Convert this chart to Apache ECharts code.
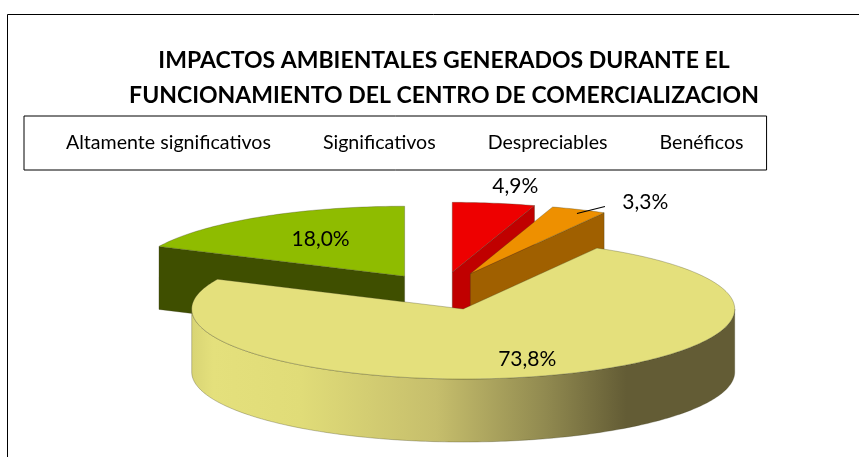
<!DOCTYPE html>
<html>
<head>
<meta charset="utf-8">
<style>html,body{margin:0;padding:0;background:#fff}#c{width:859px;height:457px}</style>
<script src="https://cdn.jsdelivr.net/npm/echarts@6/dist/echarts.min.js"></script>
</head>
<body>
<div id="c"></div>
<script>
var titleLines = ['IMPACTOS AMBIENTALES GENERADOS DURANTE EL', 'FUNCIONAMIENTO DEL CENTRO DE COMERCIALIZACION'];
var categories = ['Altamente significativos', 'Significativos', 'Despreciables', 'Benéficos'];
var values = [4.9, 3.3, 73.8, 18.0];
var valueLabels = ['4,9%', '3,3%', '73,8%', '18,0%'];
var topColors = ['#ee0000', '#ee9000', '#e4e07c', '#8fbc00'];
var sideColors = ['#c00000', '#a06000', null, '#3f4f00'];

var FONT = 'Lato, "Open Sans", sans-serif';
var pie = {cx: 441, cy: 291, rx: 271.5, ry: 70, depth: 63};
var explodes = [0.27, 0.27, 0.27, 0.25];
var total = values.reduce(function (a, b) { return a + b; }, 0);
var labelOffsets = [[63, -86], [175, -71], [64, 50], [-84, -37]];
var drawOrder = [3, 4, 5, 2];

function pt(o, a, dy) {
  return [o[0] + pie.rx * Math.sin(a), o[1] - pie.ry * Math.cos(a) + (dy || 0)];
}
function arc(o, a0, a1, dy) {
  var n = Math.max(2, Math.ceil(Math.abs(a1 - a0) / (Math.PI / 180))), p = [];
  for (var i = 0; i <= n; i++) p.push(pt(o, a0 + (a1 - a0) * i / n, dy));
  return p;
}
function makeRender(idx) {
  return function () {
    var before = 0;
    for (var k = 0; k < idx; k++) before += values[k];
    var a0 = before / total * 2 * Math.PI;
    var a1 = (before + values[idx]) / total * 2 * Math.PI;
    var mid = (a0 + a1) / 2;
    var e = explodes[idx];
    var o = [pie.cx + e * pie.rx * Math.sin(mid), pie.cy - e * pie.ry * Math.cos(mid)];
    var edge = {stroke: 'rgba(60,60,30,0.5)', lineWidth: 0.6};
    var kids = [];
    if (idx === 2) {
      var front = arc(o, Math.PI / 2, 3 * Math.PI / 2, 0);
      var back = arc(o, 3 * Math.PI / 2, Math.PI / 2, pie.depth);
      kids.push({type: 'polygon', shape: {points: front.concat(back)}, style: {
        fill: new echarts.graphic.LinearGradient(0, 0, 1, 0, [
          {offset: 0, color: '#d8d474'}, {offset: 0.04, color: '#e4e07c'},
          {offset: 0.2, color: '#e0dc78'}, {offset: 0.45, color: '#c6be6c'},
          {offset: 0.65, color: '#918a50'}, {offset: 0.8, color: '#635c35'},
          {offset: 1, color: '#635c35'}]),
        stroke: edge.stroke, lineWidth: edge.lineWidth}});
    } else {
      var radial = idx === 3 ? a0 : a1;
      var q = pt(o, radial);
      kids.push({type: 'polygon', shape: {points: [o, q, [q[0], q[1] + pie.depth], [o[0], o[1] + pie.depth]]},
        style: {fill: sideColors[idx], stroke: edge.stroke, lineWidth: edge.lineWidth}});
    }
    kids.push({type: 'polygon', shape: {points: [o].concat(arc(o, a0, a1, 0))},
      style: {fill: topColors[idx], stroke: edge.stroke, lineWidth: edge.lineWidth}});
    if (idx === 1) {
      var t = pt(o, mid);
      kids.push({type: 'line', shape: {x1: t[0] - 2, y1: t[1] + 4, x2: t[0] + 26, y2: t[1] - 3},
        style: {stroke: '#000', lineWidth: 1.2}});
    }
    kids.push({type: 'text', z2: 10, style: {
      text: valueLabels[idx], x: o[0] + labelOffsets[idx][0], y: o[1] + labelOffsets[idx][1],
      fill: '#000', font: '21px ' + FONT, textAlign: 'center', textVerticalAlign: 'middle'}});
    return {type: 'group', children: kids};
  };
}

var chart = echarts.init(document.getElementById('c'), null, {renderer: 'canvas'});
chart.setOption({
  animation: false,
  backgroundColor: '#fff',
  title: {
    text: titleLines.join('\n'), left: 439, top: 38, textAlign: 'center',
    textStyle: {fontFamily: FONT, fontWeight: 'bold', fontSize: 23, lineHeight: 35, color: '#000'}
  },
  legend: {
    data: categories, left: 24, top: 116, orient: 'horizontal', selectedMode: false,
    icon: 'rect', itemWidth: 0, itemHeight: 0, itemGap: 47,
    padding: [17, 23, 17, 37], borderColor: '#000', borderWidth: 1,
    textStyle: {fontFamily: FONT, fontSize: 19.6, color: '#000', lineHeight: 20}
  },
  graphic: [{type: 'rect', silent: true, shape: {x: 7.5, y: 14.5, width: 900, height: 500},
    style: {fill: 'none', stroke: '#000', lineWidth: 1}}],
  series: categories.map(function (name, i) {
    return {type: 'custom', name: name, coordinateSystem: 'none', data: [values[i]],
      silent: true, z: drawOrder[i], renderItem: makeRender(i), clip: false};
  })
});
</script>
</body>
</html>
